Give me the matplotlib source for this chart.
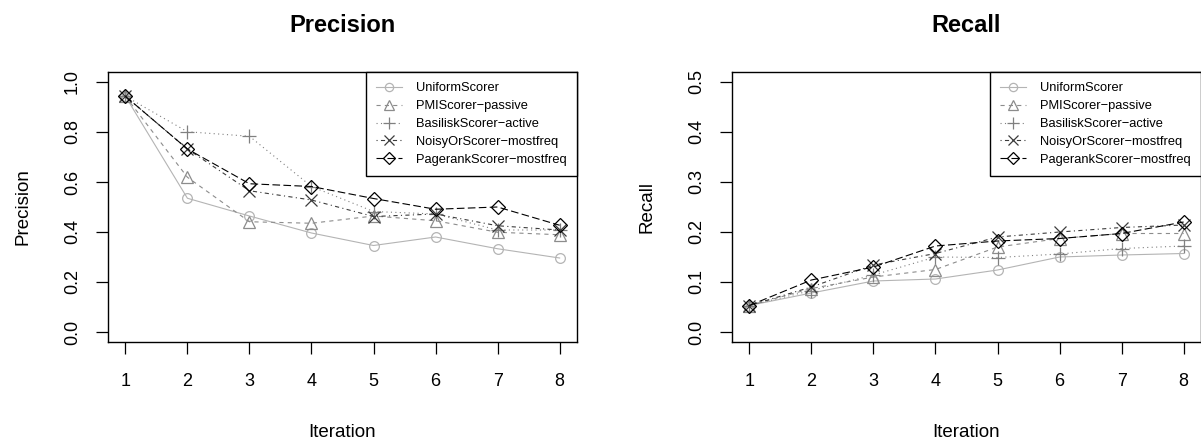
import matplotlib
matplotlib.use("Agg")
import matplotlib.pyplot as plt

plt.rcParams["font.family"] = ["Liberation Sans", "DejaVu Sans"]
plt.rcParams["lines.scale_dashes"] = False

iterations = [1, 2, 3, 4, 5, 6, 7, 8]
scorers = ["UniformScorer", "PMIScorer\u2212passive", "BasiliskScorer\u2212active",
           "NoisyOrScorer\u2212mostfreq", "PagerankScorer\u2212mostfreq"]

precision_uniform = [0.943, 0.535, 0.464, 0.396, 0.346, 0.380, 0.333, 0.296]
precision_pmi = [0.943, 0.619, 0.441, 0.435, 0.464, 0.445, 0.399, 0.389]
precision_basilisk = [0.943, 0.801, 0.783, 0.582, 0.482, 0.472, 0.408, 0.408]
precision_noisyor = [0.943, 0.732, 0.565, 0.528, 0.462, 0.472, 0.425, 0.408]
precision_pagerank = [0.943, 0.732, 0.593, 0.582, 0.534, 0.491, 0.500, 0.427]

recall_uniform = [0.053, 0.078, 0.102, 0.106, 0.124, 0.150, 0.154, 0.157]
recall_pmi = [0.053, 0.087, 0.110, 0.125, 0.170, 0.187, 0.197, 0.197]
recall_basilisk = [0.053, 0.083, 0.114, 0.150, 0.149, 0.156, 0.167, 0.172]
recall_noisyor = [0.053, 0.090, 0.134, 0.157, 0.190, 0.200, 0.209, 0.214]
recall_pagerank = [0.053, 0.104, 0.130, 0.172, 0.182, 0.187, 0.197, 0.220]

colors = ["#b4b4b4", "#8c8c8c", "#808080", "#3c3c3c", "#000000"]
markers = ["o", "^", "+", "x", "D"]
sizes = [7, 8, 10, 8, 7]
dashes = [(None, None), (3, 3), (0.8, 2.4), (0.8, 2.4, 3, 2.4), (5.5, 2.4)]

W, H = 1201, 443
fig = plt.figure(figsize=(W / 100, H / 100), dpi=100)


def panel(left, series, ylim, yticks, title, ylabel):
    ax = fig.add_axes([left / W, (H - 342) / H, 469 / W, 270 / H])
    for i, ys in enumerate(series):
        line, = ax.plot(iterations, ys, color=colors[i], marker=markers[i],
                        markersize=sizes[i], markerfacecolor="none",
                        markeredgecolor=colors[i], markeredgewidth=0.9,
                        linewidth=0.8, label=scorers[i])
        if dashes[i][0] is not None:
            line.set_dashes(dashes[i])
    ax.set_xlim(0.72, 8.28)
    ax.set_ylim(*ylim)
    ax.set_xticks(iterations)
    ax.set_yticks(yticks)
    ax.set_yticklabels([f"{v:.1f}" for v in yticks], rotation=90, va="center")
    ax.tick_params(length=8.5, width=0.9, labelsize=13, pad=11)
    ax.tick_params(axis="x", pad=14)
    for s in ax.spines.values():
        s.set_linewidth(1.0)
    ax.set_title(title, fontsize=17, fontweight="bold", pad=29)
    ax.set_xlabel("Iteration", fontsize=13.5, labelpad=24)
    ax.set_ylabel(ylabel, fontsize=13.5, labelpad=23)
    leg = ax.legend(loc="upper right", borderaxespad=0, fontsize=9.3,
                    fancybox=False, framealpha=1, edgecolor="black",
                    handlelength=2.0, handletextpad=1.1, labelspacing=0.45,
                    borderpad=0.8, markerscale=0.85)
    leg.get_frame().set_linewidth(1.0)
    return ax


panel(108, [precision_uniform, precision_pmi, precision_basilisk,
            precision_noisyor, precision_pagerank],
      (-0.04, 1.04), [0.0, 0.2, 0.4, 0.6, 0.8, 1.0], "Precision", "Precision")
panel(732, [recall_uniform, recall_pmi, recall_basilisk,
            recall_noisyor, recall_pagerank],
      (-0.02, 0.52), [0.0, 0.1, 0.2, 0.3, 0.4, 0.5], "Recall", "Recall")

fig.savefig("out.png", dpi=100)
